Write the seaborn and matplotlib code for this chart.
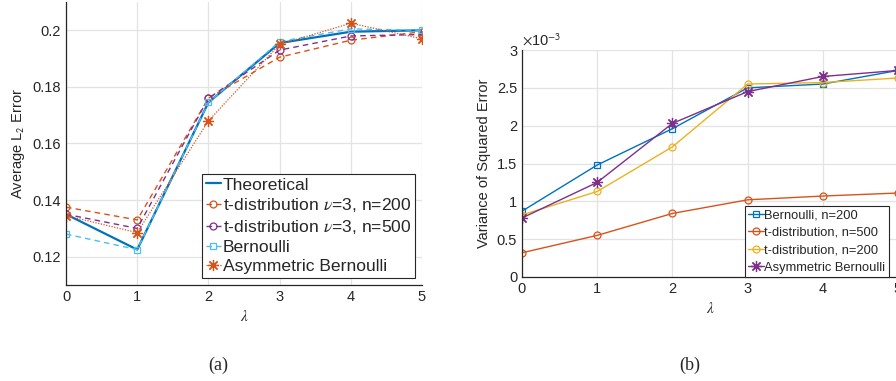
import numpy as np
import pandas as pd
import matplotlib
matplotlib.use("Agg")
import matplotlib.pyplot as plt
import seaborn as sns


# -----------------------
# Data
# -----------------------

lam = [0, 1, 2, 3, 4, 5]

# (a) average L2 error
theoretical = [0.1350, 0.1225, 0.1745, 0.1955, 0.1995, 0.2000]
t_n200 = [0.1375, 0.1330, 0.1760, 0.1905, 0.1965, 0.1995]
t_n500 = [0.1350, 0.1300, 0.1760, 0.1930, 0.1980, 0.1985]
bernoulli = [0.1280, 0.1225, 0.1745, 0.1960, 0.2005, 0.2000]
asym_bernoulli = [0.1345, 0.1285, 0.1680, 0.1950, 0.2025, 0.1970]

# (b) variance of squared error (x 1e-3)
var_bern_200 = [0.87, 1.48, 1.96, 2.50, 2.55, 2.73]
var_t_500 = [0.32, 0.55, 0.84, 1.02, 1.07, 1.11]
var_t_200 = [0.82, 1.13, 1.72, 2.55, 2.57, 2.63]
var_asym = [0.78, 1.25, 2.03, 2.45, 2.65, 2.73]


# -----------------------
# Style
# -----------------------

sns.set_style("whitegrid", {
    "grid.color": "#e3e3e3",
    "axes.edgecolor": "#262626",
})
plt.rcParams["font.family"] = ["Liberation Sans", "DejaVu Sans"]
plt.rcParams["mathtext.fontset"] = "stix"

BLUE = "#0072BD"
ORANGE = "#D95319"
YELLOW = "#EDB120"
PURPLE = "#7E2F8E"
CYAN = "#4DBEEE"
ASTER = (8, 2, 0)

fig = plt.figure(figsize=(8.96, 3.81), dpi=100)
ax1 = fig.add_axes([66 / 896, 1 - 285 / 381, 356 / 896, 283 / 381])
ax2 = fig.add_axes([522 / 896, 1 - 277 / 381, 376 / 896, 227 / 381])


def draw(ax, y, label, color, ls, marker, ms, lw=1.0, mfc="none"):
    df = pd.DataFrame({"lam": lam, "val": y})
    sns.lineplot(
        data=df, x="lam", y="val", ax=ax,
        color=color, linestyle=ls, linewidth=lw,
        marker=marker, markersize=ms,
        markerfacecolor=mfc, markeredgecolor=color,
        markeredgewidth=0.9, label=label
    )


# -----------------------
# (a)
# -----------------------

draw(ax1, theoretical, "Theoretical", BLUE, "-", None, 0, lw=1.6)
draw(ax1, t_n200, "t-distribution $\\nu$=3, n=200", ORANGE, (0, (4, 3)), "o", 5)
draw(ax1, t_n500, "t-distribution $\\nu$=3, n=500", PURPLE, (0, (4, 3)), "o", 5)
draw(ax1, bernoulli, "Bernoulli", CYAN, (0, (4, 3)), "s", 4)
draw(ax1, asym_bernoulli, "Asymmetric Bernoulli", ORANGE, (0, (1, 1.2)), ASTER, 8, lw=0.9)

ax1.set_xlim(0, 5)
ax1.set_ylim(0.11, 0.21)
ax1.set_yticks([0.12, 0.14, 0.16, 0.18, 0.2])
ax1.set_yticklabels(["0.12", "0.14", "0.16", "0.18", "0.2"])
ax1.set_xlabel("$\\lambda$", fontsize=11)
ax1.set_ylabel("Average L$_\\mathsf{2}$ Error", fontsize=10.5)

leg1 = ax1.legend(
    loc="lower right", fontsize=12.6, frameon=True, fancybox=False,
    framealpha=1, edgecolor="#262626", handlelength=0.9,
    handletextpad=0.1, labelspacing=0.22, borderpad=0.2,
    borderaxespad=0.4
)
leg1.get_frame().set_linewidth(0.8)


# -----------------------
# (b)
# -----------------------

draw(ax2, var_bern_200, "Bernoulli, n=200", BLUE, "-", "s", 4)
draw(ax2, var_t_500, "t-distribution, n=500", ORANGE, "-", "o", 5)
draw(ax2, var_t_200, "t-distribution, n=200", YELLOW, "-", "o", 5)
draw(ax2, var_asym, "Asymmetric Bernoulli", PURPLE, "-", ASTER, 8)

ax2.set_xlim(0, 5)
ax2.set_ylim(0, 3)
ax2.set_yticks([0, 0.5, 1, 1.5, 2, 2.5, 3])
ax2.set_yticklabels(["0", "0.5", "1", "1.5", "2", "2.5", "3"])
ax2.set_xlabel("$\\lambda$", fontsize=11)
ax2.set_ylabel("Variance of Squared Error", fontsize=10.5)
ax2.text(0.0, 1.005, "$\\times$10$^{\\mathsf{-3}}$", transform=ax2.transAxes,
         fontsize=10.5, color="#262626", va="bottom", ha="left")

leg2 = ax2.legend(
    loc="lower right", bbox_to_anchor=(0.975, 0.0), fontsize=9.3,
    frameon=True, fancybox=False, framealpha=1, edgecolor="#262626",
    handlelength=1.2, handletextpad=0.05, labelspacing=0.42,
    borderpad=0.25, borderaxespad=0.0
)
leg2.get_frame().set_linewidth(0.8)


for ax in (ax1, ax2):
    ax.set_xticks(lam)
    ax.tick_params(labelsize=10.5, colors="#262626", direction="in",
                   length=3, width=0.8)
    ax.grid(True, linewidth=0.9)
    for side in ("top", "right"):
        ax.spines[side].set_visible(False)
    for side in ("left", "bottom"):
        ax.spines[side].set_linewidth(0.9)


# -----------------------
# Captions
# -----------------------

fig.text(218 / 896, 1 - 365 / 381, "(a)", family="Liberation Serif",
         fontsize=13, ha="center", va="center")
fig.text(690 / 896, 1 - 365 / 381, "(b)", family="Liberation Serif",
         fontsize=13, ha="center", va="center")

fig.savefig("out.png", dpi=100)
